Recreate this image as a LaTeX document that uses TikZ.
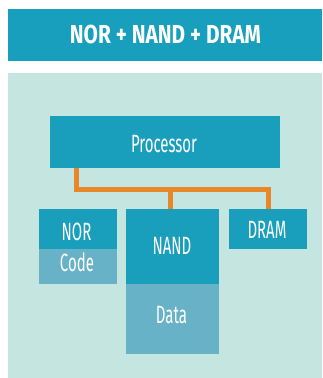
\documentclass[tikz,border=0pt]{standalone}
\usepackage{fontspec}
\setmainfont{Fira Sans}[FakeStretch=0.6]
\newfontfamily\titlefont{Fira Sans}[FakeStretch=0.8]
\definecolor{bar}{HTML}{189FBD}
\definecolor{bgc}{HTML}{C5E5E0}
\definecolor{dark}{HTML}{199FBC}
\definecolor{light}{HTML}{68B2C8}
\definecolor{org}{HTML}{E8862A}
\begin{document}
\begin{tikzpicture}[x=1pt,y=-1pt,
  box/.style={fill=dark,draw=none},
  lbox/.style={fill=light,draw=none},
  lbl/.style={text=white,font=\fontsize{25}{25}\selectfont,inner sep=0pt},
  wire/.style={draw=org,line width=5pt}]
\useasboundingbox (0,0) rectangle (322,378);
\fill[bar] (8,9) rectangle (322,61);
\node[text=white,font=\titlefont\fontsize{26}{26}\selectfont\bfseries,inner sep=0pt] (title) at (165.5,34.5) {NOR + NAND + DRAM};
\fill[bgc] (8,73) rectangle (322,378);
% wires
\coordinate (j1) at (76,189.5);
\coordinate (j2) at (170.5,189.5);
\coordinate (j3) at (268.5,189.5);
\fill[box] (50,116) rectangle (280,168);
\node[lbl] (proc) at (164,144) {Processor};
\draw[wire] (76,168) -- (j1) -- (j3) -- (268.5,209);
\draw[wire] (j2) -- (170.5,209);
% NOR
\fill[box] (39,209) rectangle (117,249);
\fill[lbox] (39,249) rectangle (117,284);
\node[lbl] (nor) at (76.5,231.5) {NOR};
\node[lbl] (code) at (77,262.5) {Code};
% NAND
\fill[box] (126,209) rectangle (219,284);
\fill[lbox] (126,284) rectangle (219,354);
\node[lbl] (nand) at (172,245.5) {NAND};
\node[lbl] (data) at (171.5,315) {Data};
% DRAM
\fill[box] (229,209) rectangle (307,249);
\node[lbl] (dram) at (267,230) {DRAM};
\end{tikzpicture}
\end{document}
